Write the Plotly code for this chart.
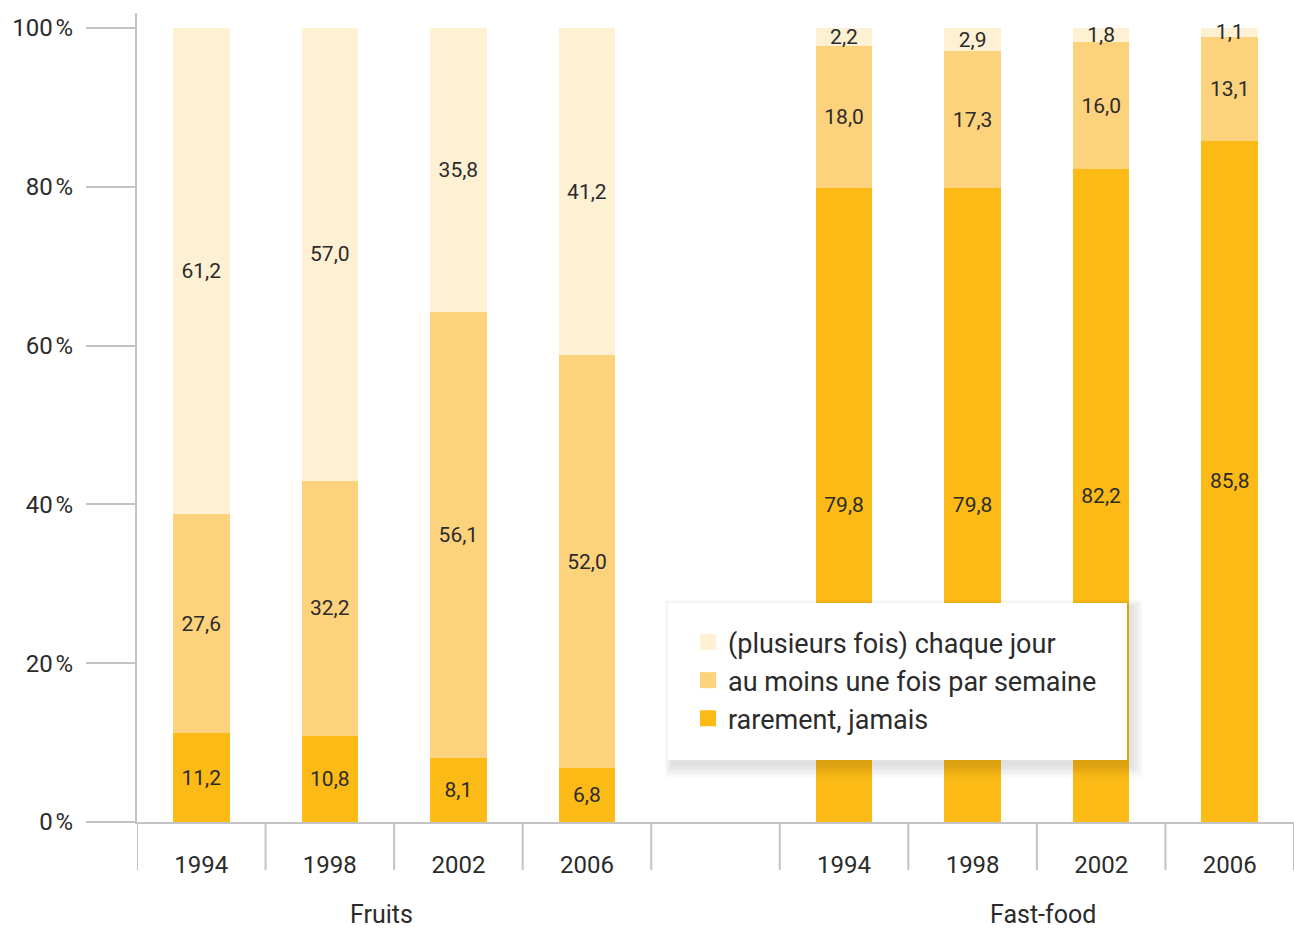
import plotly.graph_objects as go

years = ["1994", "1998", "2002", "2006"]
groups = ["Fruits", "Fast-food"]
series_names = ["rarement, jamais", "au moins une fois par semaine", "(plusieurs fois) chaque jour"]
colors = ["#FBBA16", "#FDD27C", "#FEF0D2"]

fruits_rare = [11.2, 10.8, 8.1, 6.8]
fruits_week = [27.6, 32.2, 56.1, 52.0]
fruits_daily = [61.2, 57.0, 35.8, 41.2]
fast_rare = [79.8, 79.8, 82.2, 85.8]
fast_week = [18.0, 17.3, 16.0, 13.1]
fast_daily = [2.2, 2.9, 1.8, 1.1]

y_tickvals = [0, 20, 40, 60, 80, 100]
y_ticktext = ["0\u202f%", "20\u202f%", "40\u202f%", "60\u202f%", "80\u202f%", "100\u202f%"]

# positions: group 0 slots 0..3, empty slot 4, group 1 slots 5..8
n = len(years)
xpos = [g * (n + 1) + i for g in range(len(groups)) for i in range(n)]
xlabels = years * len(groups)
series_vals = [fruits_rare + fast_rare, fruits_week + fast_week, fruits_daily + fast_daily]

FONT = "Roboto"
TXT = "#2b2b2b"
AX = "#c3c3c6"

fig = go.Figure()
for name, vals, col in zip(series_names, series_vals, colors):
    fig.add_trace(go.Bar(
        x=xpos, y=vals, name=name, marker=dict(color=col, line=dict(width=0)),
        width=0.44, text=vals, texttemplate="%{y:.1f}", textposition="inside",
        insidetextanchor="middle", textangle=0, constraintext="none",
        textfont=dict(family=FONT, size=21, color=TXT),
        showlegend=False, hoverinfo="skip",
    ))

# legend entries (larger square markers)
for name, col in zip(series_names, colors):
    fig.add_trace(go.Scatter(
        x=[None], y=[None], mode="markers", name=name,
        marker=dict(symbol="square", size=16, color=col, line=dict(width=0)),
        showlegend=True,
    ))

L, T, B = 137, 13, 111
W, H = 1294, 933
ph = H - T - B
pw = W - L
ext = -48 / ph

shapes = []
# separators below axis
for k in range(len(xpos) + 2):
    xv = k - 0.5
    shapes.append(dict(type="line", xref="x", yref="paper", x0=xv, x1=xv, y0=0, y1=ext,
                       line=dict(color=AX, width=2), layer="above"))
# legend box with soft shadow
lx0, lx1 = (668 - L) / pw, (1127 - L) / pw
ly0, ly1 = (822 - 760) / ph, (822 - 603) / ph
for d in range(12, 0, -2):
    shapes.append(dict(type="rect", xref="paper", yref="paper",
                       x0=lx0 + (4 - d * 0.6) / pw, x1=lx1 + (4 + d) / pw,
                       y0=ly0 - (5 + d) / ph, y1=ly1 - (4 - d * 0.6) / ph,
                       fillcolor="rgba(0,0,0,0.018)", line=dict(width=0), layer="above"))
shapes.append(dict(type="rect", xref="paper", yref="paper", x0=lx0, x1=lx1, y0=ly0, y1=ly1,
                   fillcolor="white", line=dict(width=0), layer="above"))

annotations = []
group_centers = [1.4, 6.55]
for gname, gc in zip(groups, group_centers):
    annotations.append(dict(text=gname, x=gc, xref="x", y=(822 - 914) / ph, yref="paper",
                            showarrow=False, font=dict(family=FONT, size=25, color=TXT),
                            xanchor="center", yanchor="middle"))

fig.update_layout(
    width=W, height=H,
    margin=dict(l=L, r=0, t=T, b=B, pad=0),
    barmode="stack",
    separators=", ",
    plot_bgcolor="white", paper_bgcolor="white",
    font=dict(family=FONT, color=TXT, size=22),
    uniformtext=dict(minsize=21, mode="show"),
    xaxis=dict(range=[-0.5, len(xpos) + 0.5], tickvals=xpos, ticktext=xlabels,
               showgrid=False, zeroline=False, showline=True, linecolor=AX, linewidth=2,
               ticks="", ticklabelstandoff=20, tickfont=dict(family=FONT, size=24, color=TXT)),
    yaxis=dict(range=[0, 101.9], tickvals=y_tickvals, ticktext=y_ticktext,
               showgrid=False, zeroline=False, showline=True, linecolor=AX, linewidth=2,
               ticks="outside", ticklen=49, tickwidth=2, tickcolor=AX,
               ticklabelstandoff=8, tickfont=dict(family=FONT, size=24, color=TXT)),
    legend=dict(x=(688 - L) / pw, y=(822 - 618) / ph, xanchor="left", yanchor="top",
                bgcolor="rgba(0,0,0,0)", borderwidth=0, traceorder="reversed",
                font=dict(family=FONT, size=27, color=TXT), tracegroupgap=0),
    shapes=shapes,
    annotations=annotations,
    showlegend=True,
)

fig.write_html("out.html")
